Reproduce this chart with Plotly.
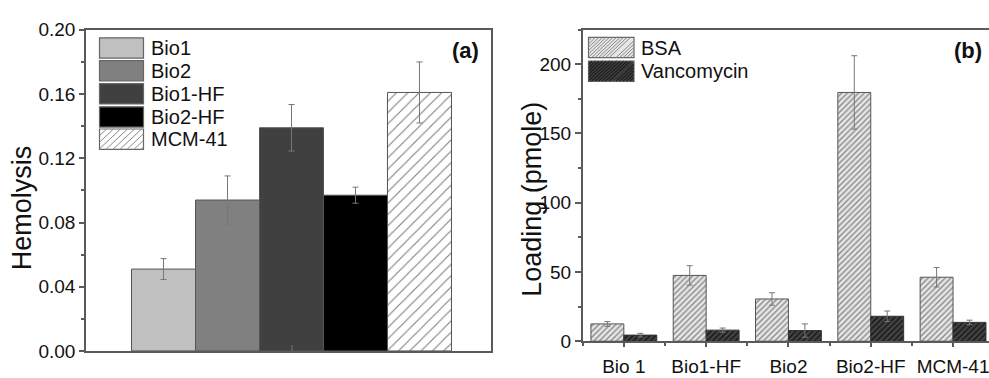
import plotly.graph_objects as go

W, H = 989, 378

# ---------------- data ----------------
# panel (a)
hemo_names = ["Bio1", "Bio2", "Bio1-HF", "Bio2-HF", "MCM-41"]
hemo_values = [0.051, 0.094, 0.139, 0.097, 0.161]
hemo_errors = [0.0065, 0.015, 0.0145, 0.005, 0.019]

# panel (b)
load_categories = ["Bio 1", "Bio1-HF", "Bio2", "Bio2-HF", "MCM-41"]
bsa_values = [12.5, 47.5, 30.5, 179.6, 46.2]
bsa_errors = [1.7, 7.0, 4.5, 26.5, 7.0]
vanc_values = [4.4, 8.0, 7.7, 18.0, 13.6]
vanc_errors = [1.3, 1.5, 4.8, 3.8, 1.6]

a_yticks = [0.00, 0.04, 0.08, 0.12, 0.16, 0.20]
b_yticks = [0, 50, 100, 150, 200]

# ---------------- style ----------------
FONT = "Liberation Sans, Arial, sans-serif"
AX = "#5a5a5a"
hemo_colors = ["#c0c0c0", "#808080", "#404040", "#000000", "#ffffff"]

fig = go.Figure()

err_style = dict(type="data", thickness=1, width=3, color="#777777")

for i, (n, v, e) in enumerate(zip(hemo_names, hemo_values, hemo_errors)):
    marker = dict(color=hemo_colors[i], line=dict(color="#555555", width=1))
    if n == "MCM-41":
        marker["pattern"] = dict(shape="/", bgcolor="#ffffff", fgcolor="#808080",
                                 size=8, solidity=0.14, fillmode="replace")
    fig.add_trace(go.Bar(x=[0], y=[v], name=n, marker=marker,
                         error_y=dict(array=[e], **err_style),
                         xaxis="x", yaxis="y", showlegend=False))

fig.add_trace(go.Bar(x=list(range(len(load_categories))), y=bsa_values, name="BSA",
                     marker=dict(color="#e4e4e4", line=dict(color="#555555", width=1),
                                 pattern=dict(shape="/", bgcolor="#e6e6e6", fgcolor="#8a8a8a",
                                              size=4, solidity=0.35, fillmode="replace")),
                     error_y=dict(array=bsa_errors, **err_style),
                     xaxis="x2", yaxis="y2", showlegend=False))
fig.add_trace(go.Bar(x=list(range(len(load_categories))), y=vanc_values, name="Vancomycin",
                     marker=dict(color="#333333", line=dict(color="#333333", width=1),
                                 pattern=dict(shape="/", bgcolor="#444444", fgcolor="#1a1a1a",
                                              size=4, solidity=0.4, fillmode="replace")),
                     error_y=dict(array=vanc_errors, **err_style),
                     xaxis="x2", yaxis="y2", showlegend=False))


def px2x(p):
    return p / W


def py2y(p):
    return 1 - p / H


shapes = []
annotations = []


def swatch(x0, y0, x1, y1, fill, line_col, hatch=None, spacing=6, hatch_w=1):
    shapes.append(dict(type="rect", xref="paper", yref="paper",
                       x0=px2x(x0), x1=px2x(x1), y0=py2y(y1), y1=py2y(y0),
                       fillcolor=fill, line=dict(color=line_col, width=1.2), layer="above"))
    if hatch:
        # "/" lines in pixel coordinates: x + y = c
        c = x0 + y0 + spacing
        while c < x1 + y1:
            pts = []
            for yy in (y0, y1):
                xx = c - yy
                if x0 <= xx <= x1:
                    pts.append((xx, yy))
            for xx in (x0, x1):
                yy = c - xx
                if y0 <= yy <= y1:
                    pts.append((xx, yy))
            if len(pts) >= 2:
                (ax, ay), (bx, by) = pts[0], pts[-1]
                shapes.append(dict(type="line", xref="paper", yref="paper",
                                   x0=px2x(ax), y0=py2y(ay), x1=px2x(bx), y1=py2y(by),
                                   line=dict(color=hatch, width=hatch_w), layer="above"))
            c += spacing


# legend (a)
leg_a_rows = [29.5, 53.5, 78, 102.5, 126]
for i, n in enumerate(hemo_names):
    y0 = leg_a_rows[i]
    if n == "MCM-41":
        swatch(99.5, y0, 143.5, y0 + 21.5, "#ffffff", "#666666", hatch="#8a8a8a", spacing=7)
    else:
        swatch(99.5, y0, 143.5, y0 + 21.5, hemo_colors[i], "#666666")
    annotations.append(dict(text=n, xref="paper", yref="paper", x=px2x(149), y=py2y(y0 + 11),
                            xanchor="left", yanchor="middle", showarrow=False,
                            font=dict(family=FONT, size=20, color="#111111")))

# legend (b)
leg_b = [("BSA", 29, "#e6e6e6", "#8a8a8a"), ("Vancomycin", 54, "#3a3a3a", "#151515")]
for n, y0, fill, hc in leg_b:
    swatch(588.5, y0, 634, y0 + 21.5, fill, "#666666", hatch=hc, spacing=3.5, hatch_w=1)
    annotations.append(dict(text=n, xref="paper", yref="paper", x=px2x(639), y=py2y(y0 + 11),
                            xanchor="left", yanchor="middle", showarrow=False,
                            font=dict(family=FONT, size=20, color="#111111")))

# panel labels
annotations.append(dict(text="<b>(a)</b>", xref="paper", yref="paper", x=px2x(481), y=py2y(43),
                        xanchor="right", yanchor="middle", showarrow=False,
                        font=dict(family=FONT, size=22, color="#111111")))
annotations.append(dict(text="<b>(b)</b>", xref="paper", yref="paper", x=px2x(984), y=py2y(43),
                        xanchor="right", yanchor="middle", showarrow=False,
                        font=dict(family=FONT, size=22, color="#111111")))
# axis titles
annotations.append(dict(text="Hemolysis", xref="paper", yref="paper", x=px2x(22), y=py2y(210),
                        textangle=-90, xanchor="center", yanchor="middle", showarrow=False,
                        font=dict(family=FONT, size=27, color="#111111")))
annotations.append(dict(text="Loading (pmole)", xref="paper", yref="paper", x=px2x(532), y=py2y(201),
                        textangle=-90, xanchor="center", yanchor="middle", showarrow=False,
                        font=dict(family=FONT, size=27, color="#111111")))

# panel geometry (pixels)
a_l, a_r, a_t, a_b = 86, 491, 21, 361
b_l, b_r, b_t, b_b = 582.7, 989, 20.7, 350.7
cat_px = 82.3

common_ax = dict(showgrid=False, zeroline=False, linecolor=AX, linewidth=1.5, tickcolor=AX,
                 tickfont=dict(family=FONT, size=19, color="#111111"))

fig.update_layout(
    width=W, height=H,
    margin=dict(l=0, r=0, t=0, b=0),
    paper_bgcolor="white", plot_bgcolor="white",
    barmode="group",
    bargap=0.21, bargroupgap=0,
    showlegend=False,
    xaxis=dict(domain=[px2x(a_l), px2x(a_r)], range=[-0.5074, 0.4926],
               showline=True, mirror=True, ticks="inside", ticklen=6, tickwidth=1.5,
               tickvals=[0], showticklabels=False, anchor="y", **common_ax),
    yaxis=dict(domain=[py2y(a_b), py2y(a_t)], range=[0, 0.2],
               showline=True, mirror=True, ticks="outside", ticklen=5, tickwidth=1.5,
               tickvals=a_yticks, ticktext=[f"{t:.2f}" for t in a_yticks],
               minor=dict(tick0=0.02, dtick=0.04, ticks="outside", ticklen=3, tickcolor=AX),
               anchor="x", **common_ax),
    xaxis2=dict(domain=[px2x(b_l), 1.0],
                range=[-0.5, -0.5 + (b_r - b_l) / cat_px],
                showline=True, mirror=True, ticks="outside", ticklen=4, tickwidth=1.5,
                tickvals=list(range(len(load_categories))), ticktext=load_categories,
                ticklabeloverflow="allow", ticklabelstandoff=3,
                minor=dict(tick0=0.5, dtick=1, ticks="outside", ticklen=3, tickcolor=AX),
                anchor="y2", **common_ax),
    yaxis2=dict(domain=[py2y(b_b), py2y(b_t)], range=[0, 225],
                showline=True, mirror=False, ticks="outside", ticklen=6, tickwidth=1.5,
                tickvals=b_yticks,
                minor=dict(tick0=25, dtick=50, ticks="outside", ticklen=3, tickcolor=AX),
                anchor="x2", **common_ax),
    shapes=shapes,
    annotations=annotations,
)

# panel (b) bar widths / offsets within each category
fig.update_traces(selector=dict(xaxis="x2"), width=0.4)
fig.update_traces(selector=dict(name="BSA"), offset=-0.4)
fig.update_traces(selector=dict(name="Vancomycin"), offset=0.0)

fig.write_html("out.html")
